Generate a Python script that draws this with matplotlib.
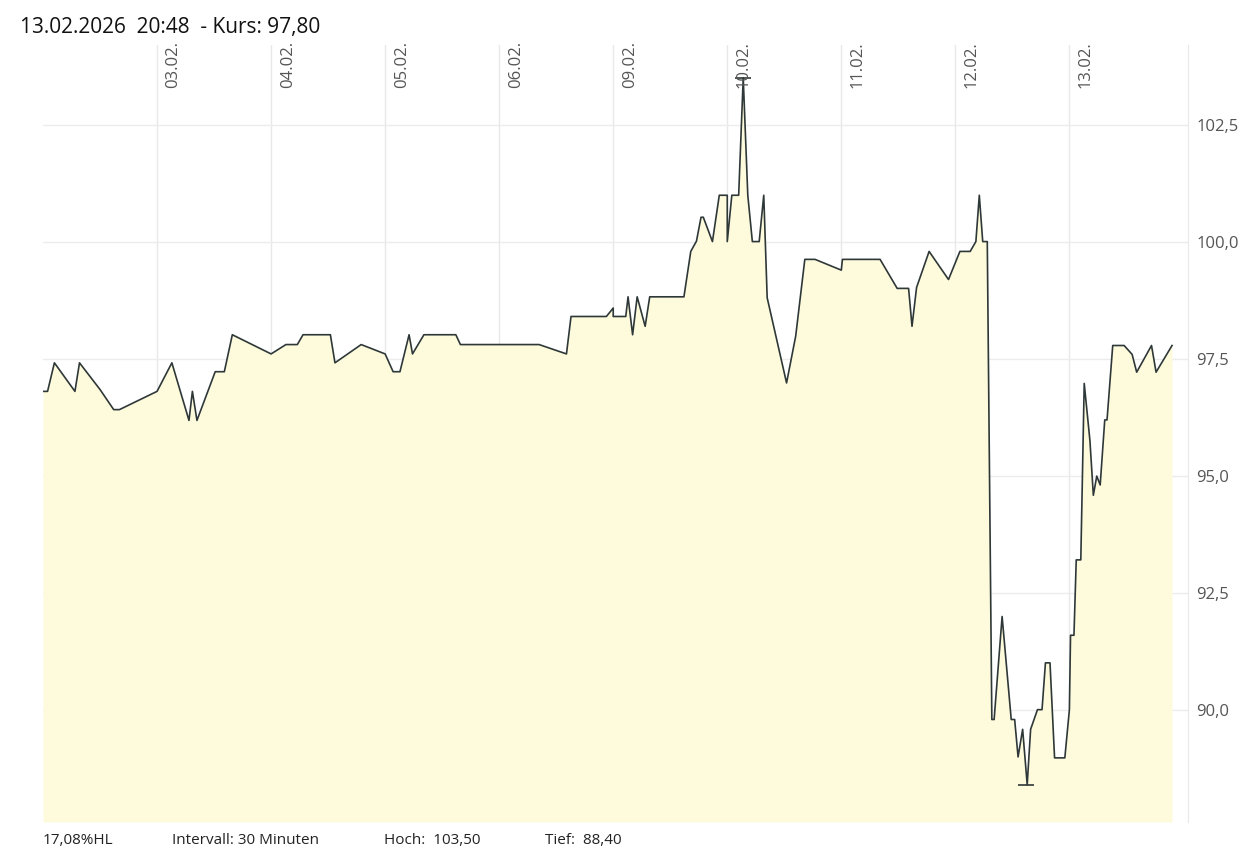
import matplotlib
matplotlib.use("Agg")
import matplotlib.pyplot as plt

days = [0, 0.04, 0.10, 0.28, 0.32, 0.50, 0.62, 0.67, 1.00, 1.13, 1.28, 1.31, 1.35, 1.51, 1.59, 1.66,
        2.00, 2.13, 2.23, 2.28, 2.52, 2.56, 2.79, 3.00, 3.07, 3.13, 3.21, 3.24, 3.34, 3.62, 3.66,
        4.35, 4.59, 4.63, 4.89, 4.94, 5.00, 5.00, 5.11, 5.13, 5.17, 5.21, 5.28, 5.32, 5.62, 5.68,
        5.73, 5.77, 5.79, 5.87, 5.93, 6.00, 6.00, 6.04, 6.10, 6.14, 6.18, 6.22, 6.28, 6.32, 6.35,
        6.52, 6.60, 6.68, 6.77, 7.00, 7.01, 7.34, 7.49, 7.59, 7.62, 7.66, 7.77, 7.94, 8.04, 8.13,
        8.18, 8.21, 8.24, 8.28, 8.32, 8.34, 8.41, 8.49, 8.52, 8.55, 8.59, 8.63, 8.66, 8.72, 8.76,
        8.79, 8.83, 8.87, 8.96, 9.00, 9.01, 9.04, 9.06, 9.10, 9.13, 9.18, 9.21, 9.24, 9.27, 9.31,
        9.33, 9.38, 9.48, 9.55, 9.59, 9.72, 9.76, 9.90]
prices = [96.80, 96.80, 97.41, 96.80, 97.41, 96.84, 96.41, 96.41, 96.80, 97.41, 96.18, 96.80, 96.18,
          97.22, 97.22, 98.01, 97.60, 97.80, 97.80, 98.01, 98.01, 97.41, 97.80, 97.60, 97.22, 97.22,
          98.01, 97.60, 98.01, 98.01, 97.80, 97.80, 97.60, 98.40, 98.40, 98.40, 98.58, 98.40, 98.40,
          98.82, 98.01, 98.82, 98.19, 98.82, 98.82, 99.79, 100.01, 100.52, 100.52, 100.0, 100.99,
          100.99, 100.0, 100.99, 100.99, 103.50, 100.99, 100.0, 100.0, 100.99, 98.80, 96.98, 97.98,
          99.62, 99.62, 99.39, 99.62, 99.62, 99.00, 99.00, 98.19, 99.02, 99.79, 99.19, 99.79, 99.79,
          100.0, 100.99, 100.0, 100.0, 89.79, 89.79, 91.99, 89.79, 89.79, 88.99, 89.58, 88.40, 89.58,
          90.0, 90.0, 91.0, 91.0, 88.97, 88.97, 90.0, 91.59, 91.59, 93.20, 93.20, 96.97, 95.75, 94.58,
          94.99, 94.80, 96.19, 96.19, 97.78, 97.78, 97.59, 97.21, 97.78, 97.21, 97.78]
day_labels = ["03.02.", "04.02.", "05.02.", "06.02.", "09.02.", "10.02.", "11.02.", "12.02.", "13.02."]
yticks = [90.0, 92.5, 95.0, 97.5, 100.0, 102.5]
high, high_day = 103.50, 6.14
low, low_day = 88.40, 8.62

plt.rcParams['font.family'] = ['Open Sans', 'DejaVu Sans']
fig = plt.figure(figsize=(12.6, 8.66), dpi=100)
ax = fig.add_axes([43/1260, 1-822/866, (1188-43)/1260, (822-45)/866])
ymin, ymax = 87.6, 104.2
ax.set_xlim(0, 10.04)
ax.set_ylim(ymin, ymax)
ax.fill_between(days, prices, ymin, color='#fefbdc', lw=0, zorder=1)
ax.plot(days, prices, color='#2f3838', lw=1.2, zorder=3)
ax.hlines([high], high_day-0.07, high_day+0.07, color='#2f3838', lw=1.2, zorder=3)
ax.hlines([low], low_day-0.07, low_day+0.07, color='#2f3838', lw=1.2, zorder=3)

for i, lab in enumerate(day_labels):
    d = i + 1
    ax.axvline(d, color='#e8e8e8', lw=1, zorder=0)
    ax.text(d + 0.075, 1.005, lab, transform=ax.get_xaxis_transform(), rotation=90,
            ha='left', va='top', fontsize=12, color='#555555', zorder=4)
for y in yticks:
    ax.axhline(y, color='#ececec', lw=1, zorder=0)
ax.set_yticks(yticks)
ax.set_yticklabels([f"{v:.1f}".replace('.', ',') for v in yticks])
ax.yaxis.tick_right()
ax.tick_params(axis='y', length=0, pad=6, labelsize=12, labelcolor='#555555')
ax.set_xticks([])
for s in ['top', 'left', 'bottom']:
    ax.spines[s].set_visible(False)
ax.spines['right'].set_color('#e8e8e8')

fig.text(20/1260, 1-27/866, "13.02.2026  20:48  - Kurs: 97,80", fontsize=15, va='center', color='#111111')
fy = 1-841/866
fig.text(43/1260, fy, "17,08%HL", fontsize=11, va='center', color='#222222')
fig.text(172/1260, fy, "Intervall: 30 Minuten", fontsize=11, va='center', color='#222222')
fig.text(384/1260, fy, "Hoch:  103,50", fontsize=11, va='center', color='#222222')
fig.text(545/1260, fy, "Tief:  88,40", fontsize=11, va='center', color='#222222')
fig.savefig("out.png", dpi=100)
